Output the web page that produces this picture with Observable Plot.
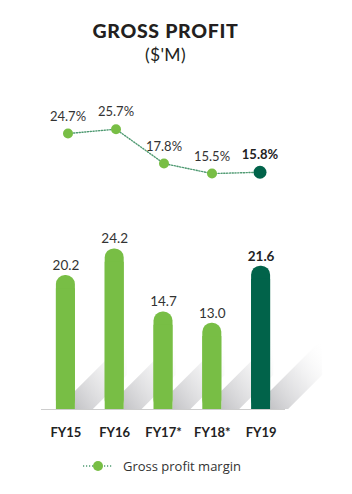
<!DOCTYPE html>
<html><head><meta charset="utf-8">
<script src="https://cdn.jsdelivr.net/npm/d3@7"></script>
<script src="https://cdn.jsdelivr.net/npm/@observablehq/plot@0.6"></script>
<style>
body{margin:0;background:#fff;font-family:Lato,sans-serif;}
#wrap{width:352px;height:494px;position:relative;overflow:hidden;background:#fff}
.t1{position:absolute;left:0;width:331px;text-align:center;top:21px;line-height:20px;font-size:19.5px;letter-spacing:0.7px;font-weight:900;color:#231f20;}
.t2{position:absolute;left:0;width:331px;text-align:center;top:45px;line-height:20px;font-size:17.5px;letter-spacing:0.3px;font-weight:400;color:#231f20;}
#line{position:absolute;left:0;top:80px}
#bars{position:absolute;left:0;top:205px}
#legend{position:absolute;left:0;top:455px}
</style></head><body>
<div id="wrap">
  <div class="t1">GROSS PROFIT</div>
  <div class="t2">($'M)</div>
  <div id="line"></div>
  <div id="bars"></div>
  <div id="legend"></div>
</div>
<script>
const years = ["FY15", "FY16", "FY17*", "FY18*", "FY19"];
const profit = [20.2, 24.2, 14.7, 13.0, 21.6];
const margin = [24.7, 25.7, 17.8, 15.5, 15.8];
const seriesName = "Gross profit margin";

const LIGHT = "#78be45";
const DARK = "#01634a";
const LINEC = "#4f9a72";
const TXT = "#333333";

const rows = years.map((y, i) => ({i, year: y, profit: profit[i], margin: margin[i], last: i === years.length - 1}));

// ---- top line chart (margin %) ----
const linePlot = Plot.plot({
  width: 352, height: 125,
  marginLeft: 41, marginRight: 67, marginTop: 30, marginBottom: 8,
  x: {type: "band", domain: years, paddingInner: 0.61, paddingOuter: 0.305, axis: null},
  y: {domain: [10, 30], axis: null},
  style: {fontFamily: "Lato, sans-serif", background: "transparent"},
  marks: [
    Plot.line(rows, {x: "year", y: "margin", stroke: LINEC, strokeWidth: 1.4, strokeDasharray: "1.2,1.6"}),
    Plot.dot(rows.filter(d => !d.last), {x: "year", y: "margin", r: 5, fill: LIGHT}),
    Plot.dot(rows.filter(d => d.last), {x: "year", y: "margin", r: 6.5, fill: DARK}),
    Plot.text(rows.filter(d => !d.last), {x: "year", y: "margin", text: d => d.margin.toFixed(1) + "%", dy: -17, fontSize: 13, fill: TXT}),
    Plot.text(rows.filter(d => d.last), {x: "year", y: "margin", text: d => d.margin.toFixed(1) + "%", dy: -17, fontSize: 13, fontWeight: "bold", fill: "#222"})
  ]
});
document.getElementById("line").append(linePlot);

// ---- bar chart ----
const W = 352, H = 240, ML = 41, MR = 67, MT = 5, MB = 36;
const yMax = 30;
const pxX = (W - ML - MR) / 5;          // px per x unit
const pxY = (H - MT - MB) / yMax;       // px per y unit
const half = 9.5 / pxX;                 // half bar width in x units
// shadow geometry (pixels -> data units)
const thick = 18, len = 52;
const shadowPts = [];
rows.forEach(d => {
  const xr = d.i + half;
  const tY = thick / pxY, tX = thick / pxX, L = len / pxX;
  shadowPts.push({i: d.i, x: xr, y1: 0, y2: tY});
  shadowPts.push({i: d.i, x: xr + tX, y1: 0, y2: 2 * tY});
  shadowPts.push({i: d.i, x: xr + L, y1: (len - thick) / pxY, y2: (len + thick) / pxY});
});

const barPlot = Plot.plot({
  width: W, height: H,
  marginLeft: ML, marginRight: MR, marginTop: MT, marginBottom: MB,
  x: {domain: [-0.5, 4.5], axis: null},
  y: {domain: [0, yMax], axis: null},
  style: {fontFamily: "Lato, sans-serif", background: "transparent", overflow: "visible"},
  marks: [
    Plot.areaY(shadowPts, {x: "x", y1: "y1", y2: "y2", z: "i", fill: "url(#shd)", curve: "linear"}),
    Plot.rect(rows, {x1: d => d.i - half, x2: d => d.i + half, y1: 0, y2: "profit", rx: 9, fill: d => d.last ? DARK : LIGHT}),
    Plot.rect(rows, {x1: d => d.i - half, x2: d => d.i + half, y1: 0, y2: d => d.profit - 2, fill: d => d.last ? DARK : LIGHT}),
    Plot.ruleY([0], {stroke: "#cdcdcd", strokeWidth: 1}),
    Plot.text(rows.filter(d => !d.last), {x: "i", y: "profit", text: d => d.profit.toFixed(1), dy: -10, fontSize: 13.5, fill: TXT}),
    Plot.text(rows.filter(d => d.last), {x: "i", y: "profit", text: d => d.profit.toFixed(1), dy: -10, fontSize: 13.5, fontWeight: "bold", fill: "#222"}),
    Plot.text(rows, {x: "i", y: 0, text: "year", dy: 23, fontSize: 13, fontWeight: "bold", fill: "#222"})
  ]
});
d3.select(barPlot).insert("defs", ":first-child").html(
  '<linearGradient id="shd" x1="0" y1="1" x2="1" y2="0">' +
  '<stop offset="0" stop-color="#b4b4b8" stop-opacity="0.8"/>' +
  '<stop offset="0.5" stop-color="#cfcfd2" stop-opacity="0.4"/>' +
  '<stop offset="1" stop-color="#ffffff" stop-opacity="0"/>' +
  '</linearGradient>');
document.getElementById("bars").append(barPlot);

// ---- legend ----
const lg = d3.select("#legend").append("svg").attr("width", 352).attr("height", 25);
lg.append("line").attr("x1", 83).attr("x2", 112).attr("y1", 11).attr("y2", 11)
  .attr("stroke", LINEC).attr("stroke-width", 1.6).attr("stroke-dasharray", "1.2,1.8");
lg.append("circle").attr("cx", 98).attr("cy", 11).attr("r", 5).attr("fill", LIGHT);
lg.append("text").attr("x", 123).attr("y", 16).attr("font-family", "'Open Sans', sans-serif")
  .attr("font-size", 13).attr("fill", "#333").text(seriesName);
</script>
</body></html>
